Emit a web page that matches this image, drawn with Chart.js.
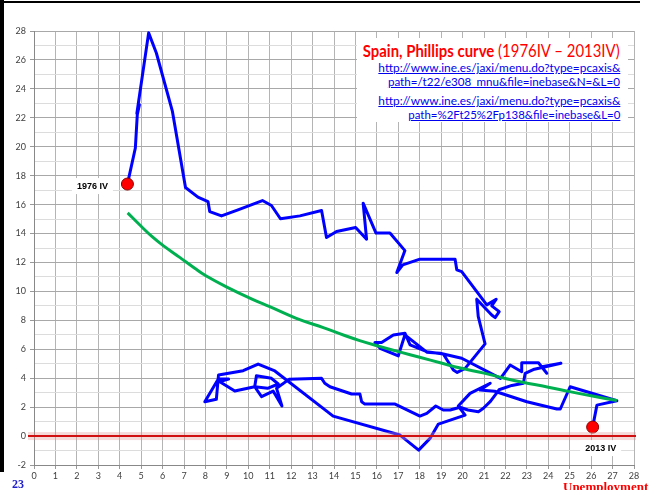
<!DOCTYPE html>
<html>
<head>
<meta charset="utf-8">
<script src="https://cdn.jsdelivr.net/npm/chart.js@4/dist/chart.umd.min.js"></script>
<style>
html,body{margin:0;padding:0;background:#fff;}
#wrap{position:relative;width:649px;height:490px;overflow:hidden;background:#fff;}
#c{position:absolute;left:0;top:0;}
.bl{position:absolute;left:0;top:0;width:4px;height:472px;background:#000;}
.bt{position:absolute;left:0;top:1px;width:640px;height:2px;background:#000;}
.box{position:absolute;left:357px;top:38px;width:271px;height:84px;background:#fff;}
.t{position:absolute;right:29px;white-space:nowrap;line-height:1;transform-origin:right center;font-family:Lato,"Open Sans",sans-serif;}
.title{top:42px;font-size:17px;color:#ff0000;}
.title b{font-weight:700;}
.lnk{font-size:11.5px;color:#0000ee;text-decoration:underline;}
.num{position:absolute;left:12px;top:477px;font:bold 12px "Liberation Serif","DejaVu Serif",serif;color:#2020d0;}
.unemp{position:absolute;left:563px;top:479px;font:bold 13px "Liberation Serif","DejaVu Serif",serif;color:#ff0000;white-space:nowrap;}
</style>
</head>
<body>
<div id="wrap">
<canvas id="c" width="649" height="490"></canvas>
<div class="bl"></div>
<div class="bt"></div>
<div class="box"></div>
<div class="t title fit" data-w="257"><b>Spain, Phillips curve</b> (1976IV – 2013IV)</div>
<div class="t lnk fit" style="top:62px" data-w="242">http://www.ine.es/jaxi/menu.do?type=pcaxis&amp;</div>
<div class="t lnk fit" style="top:76px" data-w="232">path=/t22/e308_mnu&amp;file=inebase&amp;N=&amp;L=0</div>
<div class="t lnk fit" style="top:95px" data-w="242">http://www.ine.es/jaxi/menu.do?type=pcaxis&amp;</div>
<div class="t lnk fit" style="top:109px" data-w="212">path=%2Ft25%2Fp138&amp;file=inebase&amp;L=0</div>
<div class="num">23</div>
<div class="unemp">Unemployment</div>
</div>
<script>
// Spain, quarterly path 1976IV - 2013IV (unemployment %, inflation %)
const unemployment = [
4.36,4.73,4.82,4.92,4.8,5.35,5.71,6.46,7.07,7.65,8.12,8.2,8.75,9.52,10.66,11.08,11.5,12.41,13.42,13.65,14.12,15.01,15.52,15.36,15.96,16.61,17.31,16.93,17.21,18.01,19.65,19.73,19.96,21.13,21.57,21.36,21.71,21.52,21.36,20.66,20.73,21.05,
20.12,19.75,19.57,19.1,18.33,17.55,17.31,16.77,16.22,15.91,16.15,17.0,17.31,18.33,18.95,19.96,21.77,
22.22,22.76,22.76,23.54,23.93,23.7,24.59,23.3,22.92,22.84,22.3,21.7,21.3,20.97,20.74,20.25,19.88,19.42,19.1,18.75,18.33,18.01,16.85,15.44,15.29,15.21,14.82,13.81,13.57,13.42,11.9,
11.32,11.57,11.16,10.62,10.3,10.38,11.08,11.4,10.9,10.3,9.37,8.67,9.08,8.6,8.2,7.97,8.51,8.61,9.76,10.46,11.24,
13.96,17.08,17.95,18.48,18.87,20.12,19.8,20.35,21.29,20.82,21.5,23.0,24.4,24.56,25.02,27.2,26.27,26.07
];
const inflation = [
17.42,19.91,22.21,22.9,22.3,27.87,26.48,22.44,17.18,16.52,16.21,15.52,15.22,15.64,16.28,15.94,15.02,15.22,15.59,13.72,14.14,14.42,13.61,16.1,14.03,14.03,12.82,11.3,11.83,12.23,12.23,11.49,11.37,9.07,9.46,9.0,8.6,8.19,8.37,9.46,8.27,6.37,
4.68,4.4,4.57,5.67,5.83,6.3,7.11,6.99,6.46,6.46,6.07,5.54,7.0,5.8,5.72,5.38,3.99,
4.91,4.45,5.07,5.07,4.34,4.8,5.03,4.6,4.34,3.65,3.5,3.2,2.4,1.92,1.68,1.8,1.99,1.8,1.8,2.08,1.57,1.38,2.21,2.21,2.37,2.91,2.91,3.41,3.65,3.99,3.92,
3.3,2.08,3.11,2.72,3.41,4.17,3.99,3.6,3.3,3.41,3.11,3.76,3.94,3.95,2.95,2.37,2.54,4.22,4.52,4.98,4.5,
1.38,0.07,-0.97,-0.16,0.83,1.45,2.08,2.95,3.65,3.18,3.1,2.37,1.87,1.87,3.41,2.44,2.14,0.62
];
// fitted Phillips curve (green)
const fitUnemployment = [4.37,5.0,5.5,6.0,6.8,7.5,8.0,9.0,10.2,11.0,12.4,13.5,14.5,15.2,16.0,17.1,18.0,19.0,19.9,21.0,22.0,22.8,24.0,25.0,26.0,27.2];
const fitInflation     = [15.43,14.5,13.8,13.2,12.35,11.6,11.1,10.3,9.45,8.95,8.05,7.5,6.95,6.6,6.25,5.8,5.45,5.05,4.7,4.35,3.98,3.72,3.38,3.07,2.78,2.46];
// start / end markers
const markerUnemployment = [4.36,26.07];
const markerInflation    = [17.42,0.62];
const markerLabels       = ['1976 IV','2013 IV'];
// tick labels
const xTickLabels = [0,1,2,3,4,5,6,7,8,9,10,11,12,13,14,15,16,17,18,19,20,21,22,23,24,25,26,27,28];
const yTickLabels = [-2,0,2,4,6,8,10,12,14,16,18,20,22,24,26,28];

const toPts = (xs, ys) => xs.map((x, i) => ({x: x, y: ys[i]}));

const zeroLine = {
  id: 'zeroLine',
  afterDatasetsDraw(chart) {
    const c = chart.ctx, a = chart.chartArea;
    const y = chart.scales.y.getPixelForValue(0);
    c.save();
    c.fillStyle = 'rgba(225,150,150,0.35)';
    c.fillRect(a.left - 6, y - 4, a.right - a.left + 8, 8);
    c.strokeStyle = '#d01010';
    c.lineWidth = 2;
    c.beginPath(); c.moveTo(a.left - 6, y); c.lineTo(a.right + 2, y); c.stroke();
    c.restore();
  }
};
const markerText = {
  id: 'markerText',
  afterDatasetsDraw(chart) {
    const c = chart.ctx;
    const meta = chart.getDatasetMeta(2);
    const offs = [[-35, 2], [8, 21]];
    c.save();
    c.font = 'bold 9px "Liberation Sans", Arial, sans-serif';
    c.textAlign = 'center'; c.textBaseline = 'middle';
    meta.data.forEach((pt, i) => {
      const cx = pt.x + offs[i][0], cy = pt.y + offs[i][1];
      const w = c.measureText(markerLabels[i]).width + 10;
      c.fillStyle = '#fff';
      c.fillRect(cx - w / 2, cy - 8, w, 16);
      c.fillStyle = '#000';
      c.fillText(markerLabels[i], cx, cy);
    });
    c.restore();
  }
};

new Chart(document.getElementById('c'), {
  type: 'scatter',
  data: {
    datasets: [
      {label: 'Phillips fit', data: toPts(fitUnemployment, fitInflation), showLine: true,
       borderColor: '#00b050', borderWidth: 3, pointRadius: 0, tension: 0.4, order: 2},
      {label: 'Spain', data: toPts(unemployment, inflation), showLine: true,
       borderColor: '#0000ff', borderWidth: 3, pointRadius: 0, tension: 0, borderJoinStyle: 'round', order: 3},
      {label: 'markers', data: toPts(markerUnemployment, markerInflation), showLine: false,
       pointRadius: 6, backgroundColor: '#ff0000', borderColor: '#8b0000', borderWidth: 1, order: 0}
    ]
  },
  options: {
    responsive: false, animation: false, devicePixelRatio: 1,
    layout: {padding: {left: 4, top: 31, right: 15, bottom: 0}},
    plugins: {legend: {display: false}, tooltip: {enabled: false}},
    scales: {
      x: {
        type: 'linear', min: 0, max: 28,
        afterFit(s) { s.height = 25; },
        afterBuildTicks(s) { s.ticks = xTickLabels.map(v => ({value: v})); },
        ticks: {font: {size: 9, family: 'Lato, "Open Sans", sans-serif'}, color: '#404040', padding: 2, maxRotation: 0, autoSkip: false},
        grid: {color: '#b4b4b4', tickLength: 4, tickColor: '#999'},
        border: {color: '#888'}
      },
      y: {
        type: 'linear', min: -2, max: 28,
        afterFit(s) { s.width = 30; },
        afterBuildTicks(s) { const t = []; for (let v = -2; v <= 28; v++) t.push({value: v}); s.ticks = t; },
        ticks: {font: {size: 9, family: 'Lato, "Open Sans", sans-serif'}, color: '#404040', padding: 4,
                callback: v => yTickLabels.includes(v) ? String(v) : ''},
        grid: {
          color: ctx => (ctx.tick && yTickLabels.includes(ctx.tick.value)) ? '#a8a8a8' : '#dcdcdc',
          tickColor: ctx => (ctx.tick && yTickLabels.includes(ctx.tick.value)) ? '#999' : 'rgba(0,0,0,0)',
          tickLength: 4
        },
        border: {color: '#888'}
      }
    }
  },
  plugins: [zeroLine, markerText]
});

function fitTexts() {
  document.querySelectorAll('.fit').forEach(el => {
    el.style.transform = 'none';
    const w = el.getBoundingClientRect().width;
    const target = +el.dataset.w;
    if (w > 0) el.style.transform = 'scaleX(' + (target / w).toFixed(4) + ')';
  });
}
fitTexts();
if (document.fonts && document.fonts.ready) document.fonts.ready.then(fitTexts);
</script>
</body>
</html>
